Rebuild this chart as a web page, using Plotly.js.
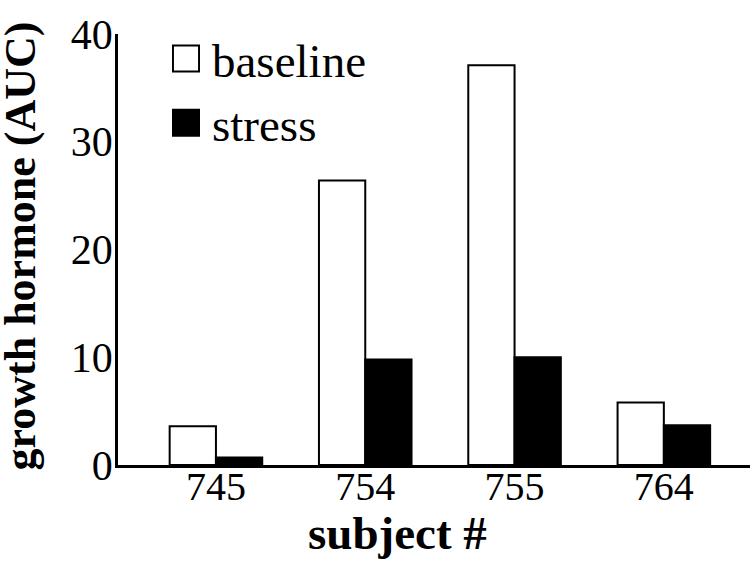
<!DOCTYPE html>
<html>
<head>
<meta charset="utf-8">
<script src="https://cdn.plot.ly/plotly-3.0.1.min.js"></script>
<style>body{margin:0;background:#fff}</style>
</head>
<body>
<div id="chart" style="width:750px;height:571px"></div>
<script>
const subjects = ["745", "754", "755", "764"];
const baseline = [3.6, 26.4, 37.1, 5.8];
const stress = [0.7, 9.8, 10.0, 3.7];
const yTicks = [0, 10, 20, 30, 40];

const serif = "Liberation Serif, Times New Roman, serif";

const traces = [
  {type: "bar", name: "baseline", x: subjects, y: baseline,
   marker: {color: "#ffffff", line: {color: "#000", width: 2}}},
  {type: "bar", name: "stress", x: subjects, y: stress,
   marker: {color: "#000000", line: {color: "#000", width: 2}}}
];

const layout = {
  width: 750, height: 571,
  margin: {l: 118, r: 0, t: 34, b: 106},
  paper_bgcolor: "#fff", plot_bgcolor: "#fff",
  barmode: "group", bargap: 0.38, bargroupgap: 0,
  showlegend: true,
  legend: {x: (160 - 118) / 632, y: 1.029, xanchor: "left", yanchor: "top",
           font: {family: serif, size: 47, color: "#000"},
           bgcolor: "rgba(0,0,0,0)", tracegroupgap: 0, itemwidth: 42},
  font: {family: serif, color: "#000"},
  xaxis: {type: "category", range: [-0.656, 3.577], showline: true, linewidth: 2.5, linecolor: "#000",
          showgrid: false, zeroline: false, ticks: "", tickfont: {size: 40, family: serif},
          ticklabelstandoff: -16},
  yaxis: {range: [0, 40], tickvals: yTicks, showline: true, linewidth: 2.5, linecolor: "#000",
          showgrid: false, zeroline: false, ticks: "", tickfont: {size: 42, family: serif},
          ticklabelstandoff: -6},
  annotations: [
    {text: "<b>subject #</b>", xref: "paper", yref: "paper",
     x: (397 - 118) / 632, y: -(552 - 465) / 431, xanchor: "center", yanchor: "bottom",
     yshift: -9, showarrow: false, font: {size: 47, family: serif, color: "#000"}},
    {text: "<b>growth hormone (AUC)</b>", xref: "paper", yref: "paper", textangle: -90,
     x: 0, y: (465 - 246) / 431, xanchor: "right", yanchor: "middle", borderpad: 0,
     xshift: -73, showarrow: false, font: {size: 44, family: serif, color: "#000"}}
  ]
};

Plotly.newPlot("chart", traces, layout, {displayModeBar: false}).then(function(gd){
  document.querySelectorAll(".legendpoints path").forEach(function(p){
    const t = p.getAttribute("transform") || "";
    p.setAttribute("transform", t + " scale(2.17)");
    p.style.strokeWidth = "0.9px";
  });
});
</script>
</body>
</html>
